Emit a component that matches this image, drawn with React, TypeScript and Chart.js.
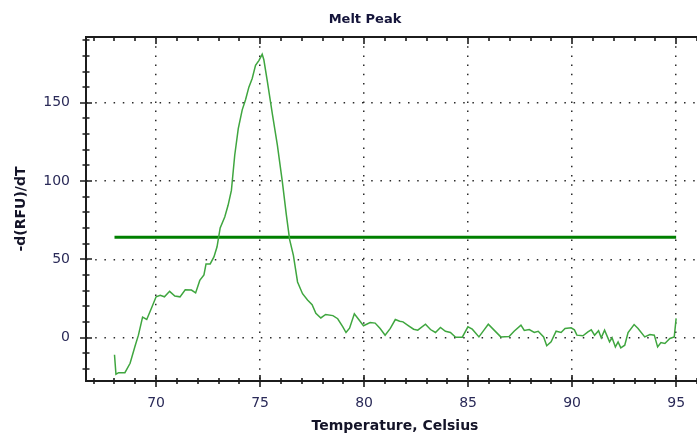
import { useEffect, useRef } from 'react';
import { Chart, registerables } from 'chart.js';

Chart.register(...registerables);

const chartTitle = 'Melt Peak';
const xAxisTitle = 'Temperature, Celsius';
const yAxisTitle = '-d(RFU)/dT';

const temperatures = [
  68.0, 68.07, 68.2, 68.5, 68.75, 69.0, 69.15, 69.35, 69.55, 69.8,
  70.0, 70.2, 70.4, 70.65, 70.9, 71.15, 71.4, 71.7, 71.9, 72.1,
  72.3, 72.4, 72.6, 72.78, 72.93, 73.08, 73.3, 73.46, 73.62, 73.78,
  73.95, 74.14, 74.3, 74.46, 74.62, 74.78, 74.94, 75.1, 75.18, 75.35,
  75.6, 75.83, 76.07, 76.26, 76.42, 76.6, 76.8, 77.04, 77.28, 77.5,
  77.68, 77.92, 78.15, 78.5, 78.73, 78.97, 79.13, 79.3, 79.53, 79.77,
  79.97, 80.29, 80.53, 80.77, 81.01, 81.26, 81.5, 81.71, 81.87, 82.14,
  82.38, 82.58, 82.95, 83.19, 83.43, 83.67, 83.91, 84.15, 84.4, 84.72,
  84.99, 85.2, 85.52, 85.76, 85.97, 86.25, 86.57, 86.97, 87.21, 87.54,
  87.7, 87.94, 88.18, 88.37, 88.63, 88.78, 88.99, 89.23, 89.47, 89.66,
  89.95, 90.11, 90.23, 90.52, 90.76, 90.92, 91.08, 91.27, 91.4, 91.56,
  91.8, 91.92, 92.08, 92.21, 92.34, 92.53, 92.69, 92.98, 93.17, 93.49,
  93.74, 93.95, 94.11, 94.27, 94.46, 94.7, 94.91, 95.0,
];

const meltValues = [
  -11, -23.5, -22.5, -22.5, -16.5, -5, 1.5, 13, 11.5, 19.5,
  26, 27, 26, 29.5, 26.5, 26, 30.5, 30.3, 28.5, 36.5,
  40, 47, 47, 51.5, 58, 70, 77, 84.5, 94, 116.5,
  133.5, 145.5, 152, 160, 165.5, 174, 177, 181, 177.5, 163.5,
  142, 123, 99.5, 78.5, 62.5, 52.5, 35.5, 28, 24, 21,
  15.5, 12.5, 14.7, 14, 12, 7, 3.2, 6, 15.2, 11,
  7.5, 9.6, 9.2, 5.8, 1.5, 5.8, 11.5, 10.4, 10, 7.5,
  5.3, 4.7, 8.5, 5.1, 3.2, 6.4, 4, 3.2, 0.2, 0.2,
  6.8, 5.3, 0.4, 4.7, 8.5, 4.7, 0.4, 0.6, 4, 7.9,
  4.5, 5.1, 3.2, 4, 0.4, -5.3, -2.8, 4, 3.2, 5.8,
  6.2, 4.9, 1.5, 1.1, 3.6, 4.9, 1.5, 4.3, -0.2, 4.7,
  -2.8, -0.2, -6, -2.8, -6.6, -4.9, 3.2, 8.3, 5.8, 0.4,
  1.9, 1.5, -6, -3.2, -3.8, -0.6, 0.4, 12.2,
];

const thresholdTemps = [68, 95];
const thresholdValue = 64;

const xMajorTicks = [70, 75, 80, 85, 90, 95];
const yMajorTicks = [0, 50, 100, 150];
const xMinorTicks = [67, 68, 69, 70, 71, 72, 73, 74, 75, 76, 77, 78, 79, 80, 81, 82, 83, 84, 85, 86, 87, 88, 89, 90, 91, 92, 93, 94, 95, 96];
const yMinorTicks = [-20, -10, 0, 10, 20, 30, 40, 50, 60, 70, 80, 90, 100, 110, 120, 130, 140, 150, 160, 170, 180, 190];

const xMin = 66.63;
const xMax = 96.34;
const yMin = -27.8;
const yMax = 192.06;

const FONT = 'DejaVu Sans';

const axesPlugin = {
  id: 'meltAxes',
  afterDraw(chart: any) {
    const { ctx, chartArea } = chart;
    const { left, top, right, bottom } = chartArea;
    const xs = chart.scales.x;
    const ys = chart.scales.y;
    ctx.save();
    ctx.strokeStyle = '#1c1c1c';
    ctx.lineWidth = 2;
    ctx.beginPath();
    ctx.moveTo(left, top);
    ctx.lineTo(right, top);
    ctx.moveTo(left, top - 1);
    ctx.lineTo(left, bottom);
    ctx.lineTo(right, bottom);
    ctx.stroke();

    ctx.lineWidth = 1.6;
    ctx.beginPath();
    xMinorTicks.forEach((v) => {
      const px = Math.round(xs.getPixelForValue(v));
      const major = xMajorTicks.includes(v);
      const h = major ? 6 : 3;
      ctx.moveTo(px, bottom - h);
      ctx.lineTo(px, bottom + h);
      ctx.moveTo(px, top);
      ctx.lineTo(px, top + (major ? 7 : 4));
    });
    yMinorTicks.forEach((v) => {
      const py = Math.round(ys.getPixelForValue(v));
      const major = yMajorTicks.includes(v);
      const w = major ? 6 : 3.5;
      ctx.moveTo(left - w, py);
      ctx.lineTo(left + w, py);
    });
    ctx.stroke();
    ctx.restore();
  },
};

export default function App() {
  const canvasRef = useRef<HTMLCanvasElement | null>(null);

  useEffect(() => {
    document.body.style.margin = '0';
    const canvas = canvasRef.current;
    if (!canvas) return;
    const chart = new Chart(canvas, {
      type: 'line',
      data: {
        datasets: [
          {
            label: 'Melt Peak',
            data: temperatures.map((t, i) => ({ x: t, y: meltValues[i] })),
            borderColor: '#3fa63f',
            borderWidth: 1.5,
            pointRadius: 0,
            tension: 0,
            fill: false,
          },
          {
            label: 'Threshold',
            data: thresholdTemps.map((t) => ({ x: t, y: thresholdValue })),
            borderColor: '#008000',
            borderWidth: 3,
            pointRadius: 0,
            fill: false,
          },
        ],
      },
      plugins: [axesPlugin],
      options: {
        animation: false,
        responsive: false,
        devicePixelRatio: 1,
        events: [],
        layout: { padding: { left: 26, right: 26, top: 0, bottom: 0 } },
        plugins: {
          legend: { display: false },
          tooltip: { enabled: false },
          title: {
            display: true,
            text: chartTitle,
            color: '#14143a',
            font: { family: FONT, size: 13, weight: 'bold', lineHeight: 1.2 },
            padding: { top: 11.7, bottom: 9.7 },
          },
        },
        scales: {
          x: {
            type: 'linear',
            min: xMin,
            max: xMax,
            afterBuildTicks: (s: any) => {
              s.ticks = xMajorTicks.map((value) => ({ value }));
            },
            afterFit: (s: any) => {
              s.height = 55;
            },
            ticks: {
              autoSkip: false,
              maxRotation: 0,
              padding: 14,
              color: '#2a2a58',
              font: { family: FONT, size: 14 },
            },
            grid: {
              drawTicks: false,
              color: '#2a2a2a',
              lineWidth: 1.5,
            },
            border: { display: false, dash: [1.5, 7.7] },
            title: {
              display: true,
              text: xAxisTitle,
              color: '#141428',
              font: { family: FONT, size: 14, weight: 'bold', lineHeight: 1.2 },
              padding: { top: 0, bottom: 1.6 },
            },
          },
          y: {
            type: 'linear',
            min: yMin,
            max: yMax,
            afterBuildTicks: (s: any) => {
              s.ticks = yMajorTicks.map((value) => ({ value }));
            },
            afterFit: (s: any) => {
              s.width = 60;
            },
            ticks: {
              autoSkip: false,
              padding: 16,
              color: '#2a2a58',
              font: { family: FONT, size: 14 },
            },
            grid: {
              drawTicks: false,
              color: '#2a2a2a',
              lineWidth: 1.5,
            },
            border: { display: false, dash: [1.5, 7.7] },
            title: {
              display: true,
              text: yAxisTitle,
              color: '#141428',
              font: { family: FONT, size: 14, weight: 'bold', lineHeight: 1.2 },
              padding: { top: -13.4, bottom: 0 },
            },
          },
        },
      },
    } as any);
    return () => chart.destroy();
  }, []);

  return (
    <div style={{ position: 'fixed', left: 0, top: 0, width: 697, height: 436, overflow: 'hidden', background: '#fff' }}>
      <canvas ref={canvasRef} width={730} height={436} style={{ width: 730, height: 436, display: 'block' }} />
    </div>
  );
}
